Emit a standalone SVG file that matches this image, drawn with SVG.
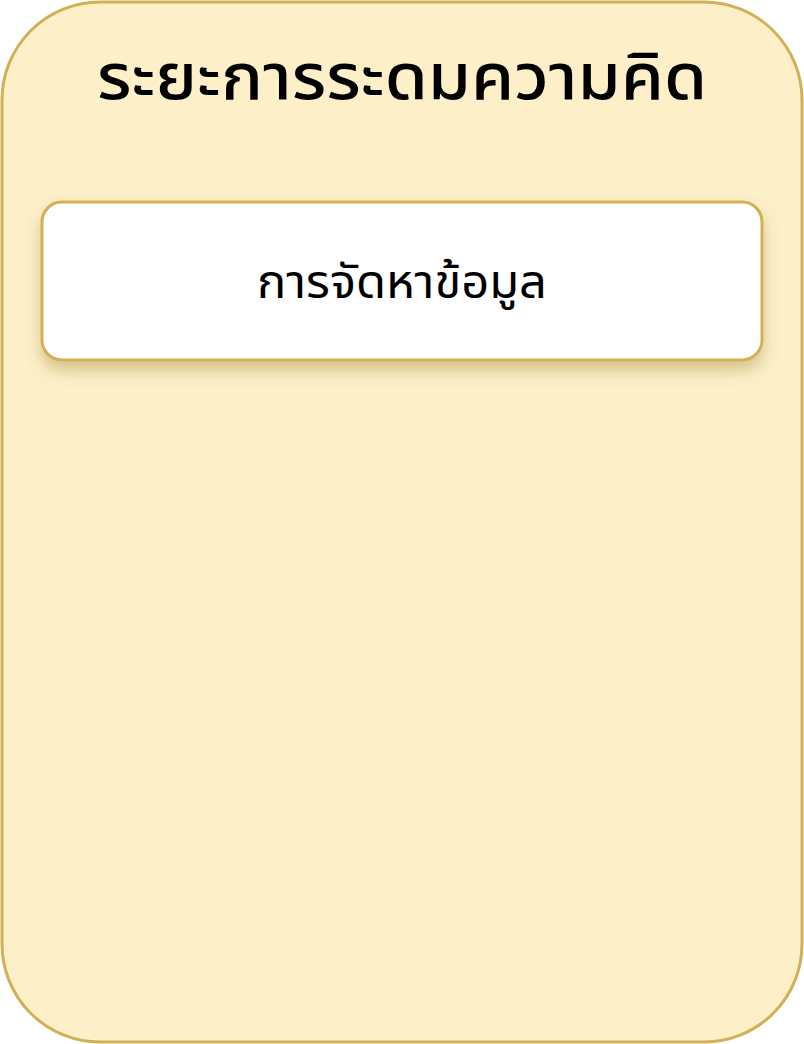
<svg xmlns="http://www.w3.org/2000/svg" width="804" height="1044" viewBox="0 0 804 1044">
<style>
.t{font-family:"Noto Sans Thai","Noto Sans","Liberation Sans",sans-serif;fill:#000;text-anchor:middle}
</style>
<defs>
<filter id="sh" x="-10%" y="-20%" width="120%" height="160%">
<feDropShadow dx="0" dy="9" stdDeviation="8" flood-color="#7a5a10" flood-opacity="0.3"/>
</filter>
</defs>
<rect width="804" height="1044" fill="#ffffff"/>
<g id="phase">
<rect x="2" y="2" width="800" height="1040" rx="98" ry="98" fill="#fdf0c9" stroke="#d2b155" stroke-width="3"/>
<text class="t" x="402" y="99" font-size="64" font-weight="500" textLength="610" lengthAdjust="spacingAndGlyphs">ระยะการระดมความคิด</text>
</g>
<g id="node1">
<rect x="42" y="202" width="720" height="158" rx="20" ry="20" fill="#ffffff" stroke="#d2b155" stroke-width="3" filter="url(#sh)"/>
<text class="t" x="402" y="298" font-size="46" textLength="290" lengthAdjust="spacingAndGlyphs">การจัดหาข้อมูล</text>
</g>
<g id="connectors"/>
</svg>
